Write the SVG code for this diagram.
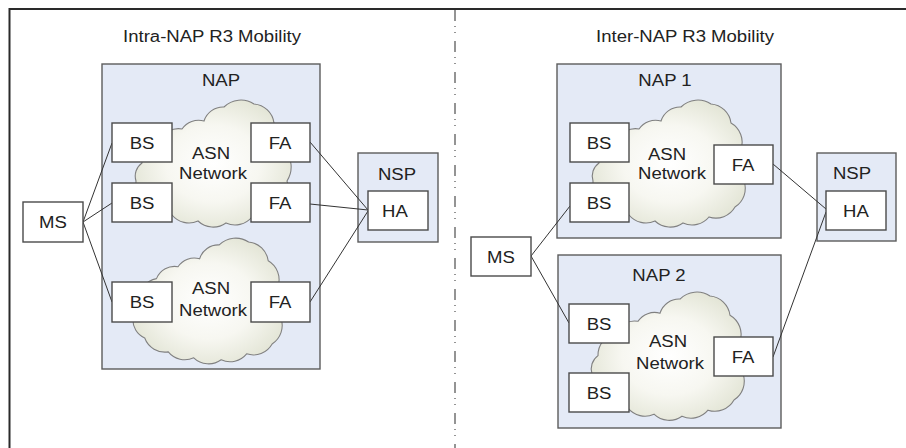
<svg xmlns="http://www.w3.org/2000/svg" xmlns:xlink="http://www.w3.org/1999/xlink" width="906" height="448" viewBox="0 0 906 448">
  <style>
    .frame { stroke: #2a2a2a; stroke-width: 2; fill: none; }
    .divider { stroke: #7a7a7a; stroke-width: 1.6; stroke-dasharray: 11 5 1 5 1 8; fill: none; }
    .zone { fill: #e4eaf6; stroke: #5c5c5c; stroke-width: 1.4; }
    .box { fill: #ffffff; stroke: #4a4a4a; stroke-width: 1.4; }
    .cloud { fill: url(#cloudFill); stroke: #808080; stroke-width: 1.1; }
    .link { stroke: #333333; stroke-width: 1; fill: none; }
    text { font-family: "Liberation Sans", Arial, sans-serif; font-size: 16px; fill: #222222; text-anchor: middle; }
  </style>
  <defs>
    <radialGradient id="cloudFill" cx="0.5" cy="0.5" r="0.55">
      <stop offset="0" stop-color="#ffffff"/>
      <stop offset="0.55" stop-color="#f7f7f1"/>
      <stop offset="1" stop-color="#e3e5d6"/>
    </radialGradient>
    <!-- cloud outline, about 155 x 123 -->
    <path id="cloudShape" class="cloud" d="M 8,62 A 22,22 0 0 1 26,40 A 20,20 0 0 1 48,28 A 20,20 0 0 1 70,20 A 20,20 0 0 1 90,6 A 24,24 0 0 1 120,3 A 22,22 0 0 1 140,22 A 22,22 0 0 1 150,48 A 26,26 0 0 1 153,80 A 22,22 0 0 1 144,106 A 22,22 0 0 1 118,116 A 22,22 0 0 1 92,122 A 22,22 0 0 1 64,120 A 22,22 0 0 1 38,114 A 22,22 0 0 1 14,100 A 20,20 0 0 1 2,80 A 16,16 0 0 1 8,62 Z"/>
  </defs>

  <rect width="906" height="448" fill="#ffffff"/>

  <!-- outer frame and section divider -->
  <g id="frame">
    <path class="frame" d="M 9.5,448 V 9 H 906"/>
    <line class="divider" x1="455" y1="10" x2="455" y2="448"/>
  </g>

  <!-- section titles -->
  <g id="title-intra">
    <text transform="translate(212 42) scale(1.16 1)">Intra-NAP R3 Mobility</text>
  </g>
  <g id="title-inter">
    <text transform="translate(685 42) scale(1.16 1)">Inter-NAP R3 Mobility</text>
  </g>

  <!-- ===== Intra-NAP side ===== -->
  <g id="nap">
    <rect class="zone" x="102" y="64" width="218" height="305"/>
    <text transform="translate(221 86) scale(1.16 1)">NAP</text>
  </g>
  <g id="nsp-left">
    <rect class="zone" x="358" y="153" width="80" height="89"/>
    <text transform="translate(397 180) scale(1.16 1)">NSP</text>
  </g>
  <g id="asn-left-1">
    <use xlink:href="#cloudShape" transform="translate(134 101)"/>
    <text transform="translate(211 159) scale(1.16 1)">ASN</text>
    <text transform="translate(213 179) scale(1.16 1)">Network</text>
  </g>
  <g id="asn-left-2">
    <use xlink:href="#cloudShape" transform="translate(131 239) scale(0.98 0.99)"/>
    <text transform="translate(211 294) scale(1.16 1)">ASN</text>
    <text transform="translate(213 316) scale(1.16 1)">Network</text>
  </g>

  <!-- ===== Inter-NAP side ===== -->
  <g id="nap-1">
    <rect class="zone" x="557" y="64" width="224" height="174"/>
    <text transform="translate(665 86) scale(1.16 1)">NAP 1</text>
  </g>
  <g id="nap-2">
    <rect class="zone" x="558" y="255" width="223" height="173"/>
    <text transform="translate(659 281) scale(1.16 1)">NAP 2</text>
  </g>
  <g id="nsp-right">
    <rect class="zone" x="817" y="153" width="79" height="88"/>
    <text transform="translate(852 179) scale(1.16 1)">NSP</text>
  </g>
  <g id="asn-right-1">
    <use xlink:href="#cloudShape" transform="translate(591 101)"/>
    <text transform="translate(667 160) scale(1.16 1)">ASN</text>
    <text transform="translate(672 179) scale(1.16 1)">Network</text>
  </g>
  <g id="asn-right-2">
    <use xlink:href="#cloudShape" transform="translate(590 293) scale(1 1.01)"/>
    <text transform="translate(668 347) scale(1.16 1)">ASN</text>
    <text transform="translate(670 369) scale(1.16 1)">Network</text>
  </g>

  <!-- connectors -->
  <g id="connectors">
    <line class="link" x1="83" y1="222" x2="112" y2="143"/>
    <line class="link" x1="83" y1="222" x2="112" y2="203"/>
    <line class="link" x1="83" y1="222" x2="112" y2="302"/>
    <line class="link" x1="310" y1="142" x2="368" y2="210"/>
    <line class="link" x1="310" y1="204" x2="368" y2="210"/>
    <line class="link" x1="310" y1="302" x2="368" y2="211"/>
    <line class="link" x1="531" y1="256" x2="570" y2="206"/>
    <line class="link" x1="531" y1="256" x2="569" y2="323"/>
    <line class="link" x1="773" y1="164" x2="826" y2="209"/>
    <line class="link" x1="773" y1="357" x2="826" y2="212"/>
  </g>

  <!-- Intra-NAP nodes -->
  <g id="ms-left">
    <rect class="box" x="23" y="202" width="60" height="40"/>
    <text transform="translate(53 228) scale(1.16 1)">MS</text>
  </g>
  <g id="bs-left-1">
    <rect class="box" x="112" y="123" width="60" height="39"/>
    <text transform="translate(142 149) scale(1.16 1)">BS</text>
  </g>
  <g id="bs-left-2">
    <rect class="box" x="112" y="183" width="60" height="39"/>
    <text transform="translate(142 209) scale(1.16 1)">BS</text>
  </g>
  <g id="bs-left-3">
    <rect class="box" x="112" y="282" width="60" height="40"/>
    <text transform="translate(142 308) scale(1.16 1)">BS</text>
  </g>
  <g id="fa-left-1">
    <rect class="box" x="251" y="123" width="59" height="39"/>
    <text transform="translate(280 149) scale(1.16 1)">FA</text>
  </g>
  <g id="fa-left-2">
    <rect class="box" x="251" y="183" width="59" height="39"/>
    <text transform="translate(280 209) scale(1.16 1)">FA</text>
  </g>
  <g id="fa-left-3">
    <rect class="box" x="251" y="282" width="59" height="40"/>
    <text transform="translate(280 308) scale(1.16 1)">FA</text>
  </g>
  <g id="ha-left">
    <rect class="box" x="368" y="191" width="60" height="39"/>
    <text transform="translate(395 217) scale(1.16 1)">HA</text>
  </g>

  <!-- Inter-NAP nodes -->
  <g id="ms-right">
    <rect class="box" x="471" y="237" width="60" height="39"/>
    <text transform="translate(501 263) scale(1.16 1)">MS</text>
  </g>
  <g id="bs-right-1">
    <rect class="box" x="570" y="123" width="59" height="39"/>
    <text transform="translate(599 149) scale(1.16 1)">BS</text>
  </g>
  <g id="bs-right-2">
    <rect class="box" x="570" y="183" width="59" height="39"/>
    <text transform="translate(599 209) scale(1.16 1)">BS</text>
  </g>
  <g id="fa-right-1">
    <rect class="box" x="714" y="145" width="59" height="39"/>
    <text transform="translate(743 171) scale(1.16 1)">FA</text>
  </g>
  <g id="bs-right-3">
    <rect class="box" x="569" y="304" width="60" height="39"/>
    <text transform="translate(599 330) scale(1.16 1)">BS</text>
  </g>
  <g id="bs-right-4">
    <rect class="box" x="569" y="373" width="60" height="39"/>
    <text transform="translate(599 399) scale(1.16 1)">BS</text>
  </g>
  <g id="fa-right-2">
    <rect class="box" x="714" y="337" width="59" height="39"/>
    <text transform="translate(743 363) scale(1.16 1)">FA</text>
  </g>
  <g id="ha-right">
    <rect class="box" x="826" y="191" width="60" height="39"/>
    <text transform="translate(856 217) scale(1.16 1)">HA</text>
  </g>
</svg>
